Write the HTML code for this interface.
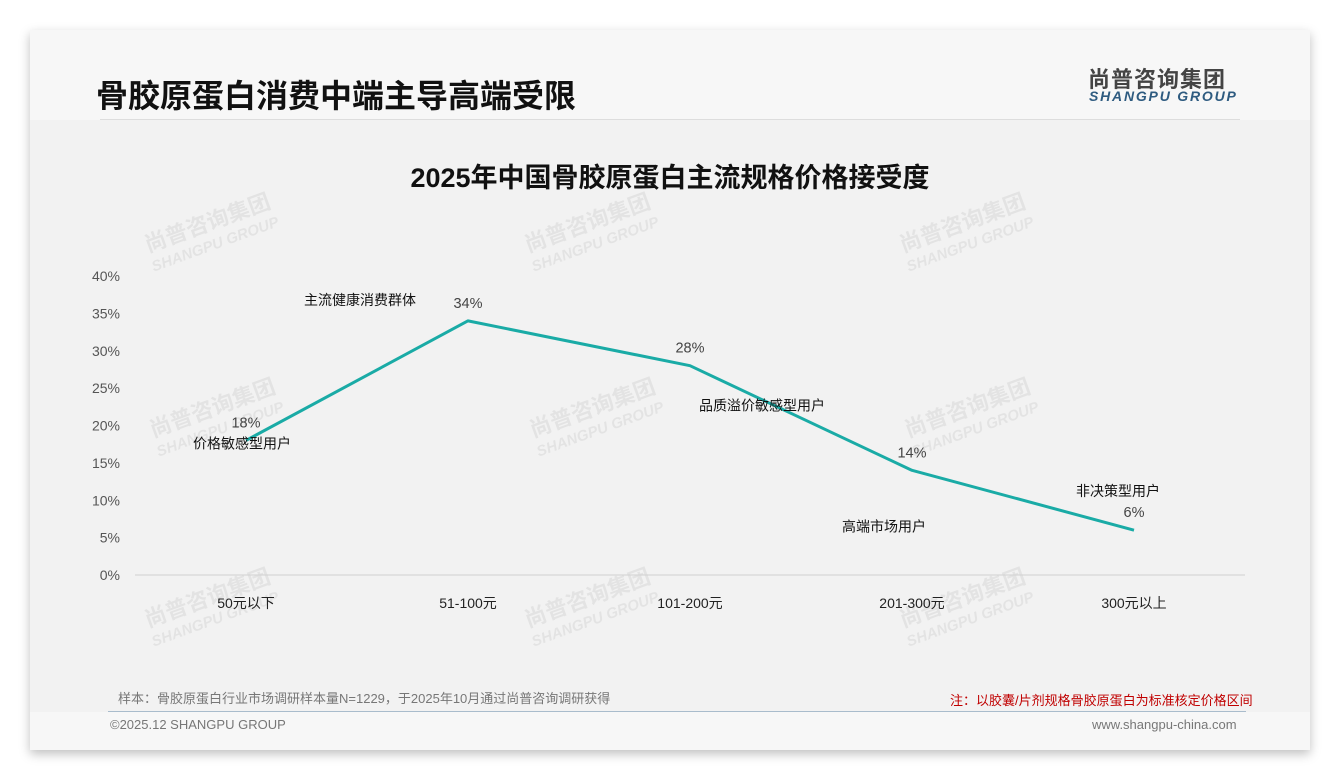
<!DOCTYPE html>
<html><head><meta charset="utf-8">
<style>
body{margin:0;width:1340px;height:780px;background:#fff;font-family:"Liberation Sans","Noto Sans CJK SC",sans-serif;position:relative;overflow:hidden}
.card{position:absolute;left:30px;top:30px;width:1280px;height:720px;background:#f2f2f2;box-shadow:0 4px 10px rgba(0,0,0,.25)}
.hdr{position:absolute;left:0;top:0;width:1280px;height:90px;background:#f7f7f7}
.ftr{position:absolute;left:0;top:682px;width:1280px;height:38px;background:#f7f7f7}
.abs{position:absolute;white-space:nowrap}
</style></head><body>
<div class="card">
 <div class="hdr"></div>
 <div class="ftr"></div>
 <div class="abs" style="left:66px;top:47px;font-size:32px;line-height:38px;font-weight:bold;color:#111">骨胶原蛋白消费中端主导高端受限</div>
 <div class="abs" style="left:1058px;top:32px;font-size:22px;font-weight:bold;color:#444;letter-spacing:1px">尚普咨询集团</div>
 <div class="abs" style="left:1059px;top:58px;font-size:14px;font-weight:bold;font-style:italic;color:#2e5b80;letter-spacing:1.8px">SHANGPU GROUP</div>
 <div class="abs" style="left:70px;top:89px;width:1140px;height:1px;background:#ddd"></div>
 <div class="abs" style="left:88px;top:658px;font-size:13px;color:#777">样本：骨胶原蛋白行业市场调研样本量N=1229，于2025年10月通过尚普咨询调研获得</div>
 <div class="abs" style="left:920px;top:660px;font-size:13px;color:#c00000">注：以胶囊/片剂规格骨胶原蛋白为标准核定价格区间</div>
 <div class="abs" style="left:78px;top:681px;width:1138px;height:1px;background:#a9bccc"></div>
 <div class="abs" style="left:80px;top:687px;font-size:13px;color:#777">©2025.12 SHANGPU GROUP</div>
 <div class="abs" style="left:1062px;top:687px;font-size:13px;color:#777">www.shangpu-china.com</div>
</div>
<svg width="1340" height="780" style="position:absolute;left:0;top:0"></svg>
<script>
const categories=["50元以下","51-100元","101-200元","201-300元","300元以上"];
const values=[18,34,28,14,6];
const notes=["价格敏感型用户","主流健康消费群体","品质溢价敏感型用户","高端市场用户","非决策型用户"];
const yTicks=[0,5,10,15,20,25,30,35,40];
const noteOffsets=[[-4,3],[-108,-21],[72,40],[-28,56],[-16,-39]];
const svg=document.querySelector('svg');
const NS='http://www.w3.org/2000/svg';
const x0=135,x1=1245,y0=575,yTop=276;
const xs=i=>x0+(x1-x0)/categories.length*(i+0.5);
const ys=v=>y0-(y0-yTop)*v/40;
function mk(tag,attrs,txt){const e=document.createElementNS(NS,tag);for(const k in attrs)e.setAttribute(k,attrs[k]);if(txt!==undefined)e.textContent=txt;svg.appendChild(e);return e;}
const wms=[[210,230],[590,230],[965,230],[215,415],[595,415],[970,415],[210,605],[590,605],[965,605]];
wms.forEach(p=>{const g=document.createElementNS(NS,'g');g.setAttribute('transform',`translate(${p[0]},${p[1]}) rotate(-20)`);


const t1=document.createElementNS(NS,'text');t1.setAttribute('text-anchor','middle');t1.setAttribute('font-size','22');t1.setAttribute('font-weight','bold');t1.setAttribute('fill','rgba(0,0,0,0.06)');t1.textContent='尚普咨询集团';
const t2=document.createElementNS(NS,'text');t2.setAttribute('text-anchor','middle');t2.setAttribute('y','20');t2.setAttribute('font-size','15');t2.setAttribute('font-weight','bold');t2.setAttribute('font-style','italic');t2.setAttribute('fill','rgba(0,0,0,0.06)');t2.textContent='SHANGPU GROUP';
g.appendChild(t1);g.appendChild(t2);svg.appendChild(g);});
let t=mk('text',{x:670,y:187,'text-anchor':'middle','font-size':27,'font-weight':'bold',fill:'#111'},'2025年中国骨胶原蛋白主流规格价格接受度');


yTicks.forEach(v=>{const e=mk('text',{x:120,y:ys(v)+5,'text-anchor':'end','font-size':14,fill:'#555'},v+'%');

});
const ax=mk('line',{x1:x0,x2:x1,y1:y0,y2:y0,stroke:'#d0d0d0','stroke-width':1});


categories.forEach((c,i)=>{const e=mk('text',{x:xs(i),y:608,'text-anchor':'middle','font-size':14,fill:'#222'},c);

});
const pl=mk('polyline',{points:values.map((v,i)=>xs(i)+','+ys(v)).join(' '),fill:'none',stroke:'#1aaba6','stroke-width':3,'stroke-linejoin':'round'});


values.forEach((v,i)=>{const e=mk('text',{x:xs(i),y:ys(v)-13,'text-anchor':'middle','font-size':14.5,fill:'#444'},v+'%');


const n=mk('text',{x:xs(i)+noteOffsets[i][0],y:ys(v)+noteOffsets[i][1]+5,'text-anchor':'middle','font-size':14,fill:'#111'},notes[i]);

});
</script>
</body></html>
